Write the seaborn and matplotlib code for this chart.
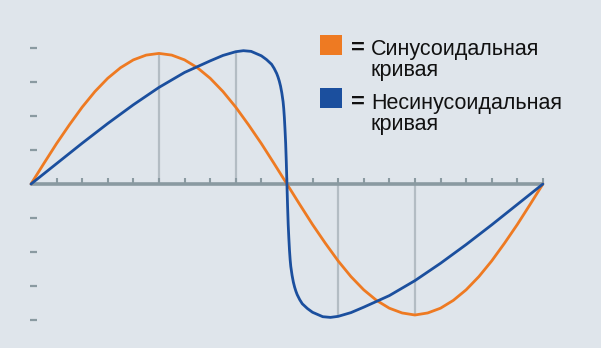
import matplotlib
matplotlib.use("Agg")
import matplotlib.pyplot as plt
import seaborn as sns
import pandas as pd
from matplotlib.patches import Rectangle

# ---- data ----
sine_x = [i * 0.5 for i in range(41)]
sine_y = [0, 0.60, 1.19, 1.74, 2.26, 2.72, 3.11, 3.42, 3.65, 3.79, 3.84,
          3.79, 3.65, 3.42, 3.11, 2.72, 2.26, 1.74, 1.19, 0.60, 0,
          -0.60, -1.19, -1.74, -2.26, -2.72, -3.11, -3.42, -3.65, -3.79, -3.85,
          -3.79, -3.65, -3.42, -3.11, -2.72, -2.26, -1.74, -1.19, -0.60, 0]

nonsine_x = [0, 1, 2, 3, 4, 5, 6, 7, 7.5, 8, 8.3, 8.6, 9, 9.2, 9.4, 9.5, 9.6,
             9.65, 9.7, 9.75, 9.8, 9.85, 9.875, 9.9, 9.925, 9.95, 9.975, 10,
             10.025, 10.05, 10.075, 10.1, 10.125, 10.15, 10.2, 10.25, 10.3,
             10.35, 10.4, 10.5, 10.6, 10.8, 11, 11.4, 11.7, 12, 12.5, 13, 14,
             15, 16, 17, 18, 19, 20]
nonsine_y = [0, 0.60, 1.20, 1.78, 2.33, 2.84, 3.28, 3.62, 3.78, 3.89, 3.92, 3.90,
             3.77, 3.66, 3.52, 3.40, 3.25, 3.15, 3.03, 2.88, 2.68, 2.42, 2.22,
             1.95, 1.60, 1.20, 0.65, 0,
             -0.65, -1.20, -1.60, -1.95, -2.22, -2.42, -2.68, -2.88, -3.03,
             -3.15, -3.25, -3.40, -3.52, -3.66, -3.77, -3.90, -3.92, -3.89,
             -3.78, -3.62, -3.28, -2.84, -2.33, -1.78, -1.20, -0.60, 0]

x_ticks = list(range(1, 21))
y_ticks = [-4, -3, -2, -1, 1, 2, 3, 4]
guide_x = [5, 8, 12, 15]
guide_y = [3.83, 3.89, -3.89, -3.85]

labels = ["Синусоидальная\nкривая", "Несинусоидальная\nкривая"]

# ---- styling ----
bg = "#dfe5eb"
orange = "#ee7a22"
blue = "#1b4f9e"
axis_col = "#8a9aa1"
guide_col = "#b3bcc3"
text_col = "#111111"

sns.set_theme(style="white")
plt.rcParams["font.family"] = ["Liberation Sans", "DejaVu Sans"]

fig = plt.figure(figsize=(6.01, 3.48), dpi=100, facecolor=bg)
ax = fig.add_axes([0, 0, 1, 1])
ax.set_facecolor(bg)
ax.set_xlim(-1.21, 22.27)
ax.set_ylim(-4.82, 5.41)
ax.axis("off")

# guide lines
ax.vlines(guide_x, 0, guide_y, color=guide_col, lw=1.6, zorder=1)

# axis line and ticks
ax.plot([0, 20], [0, 0], color=axis_col, lw=2.6, zorder=2, solid_capstyle="butt")
ax.vlines(x_ticks, 0, 0.17, color=axis_col, lw=1.5, zorder=2)
ax.hlines(y_ticks, -0.05, 0.22, color=axis_col, lw=1.6, zorder=2)

df = pd.concat([
    pd.DataFrame({"x": sine_x, "y": sine_y, "curve": labels[0]}),
    pd.DataFrame({"x": nonsine_x, "y": nonsine_y, "curve": labels[1]}),
])
sns.lineplot(data=df, x="x", y="y", hue="curve", palette=[orange, blue],
             sort=False, estimator=None, ax=ax, legend=False, lw=2.0, zorder=3)
for ln in ax.lines[-2:]:
    ln.set_solid_joinstyle("round")

# legend
W, H = 601, 348
def fx(px):
    return px / W
def fy(py):
    return 1 - py / H

for color, top, base1, base2, (l1, l2) in [
    (orange, 35, 55, 76, labels[0].split("\n")),
    (blue, 88, 109, 130, labels[1].split("\n")),
]:
    fig.add_artist(Rectangle((fx(320), fy(top + 19.5)), 21.5 / W, 19.5 / H,
                             transform=fig.transFigure, color=color, lw=0))
    fig.text(fx(351), fy(base1), "=", fontsize=17, color=text_col, va="baseline",
             fontweight="bold")
    fig.text(fx(371), fy(base1), l1, fontsize=15.5, color=text_col, va="baseline")
    fig.text(fx(371), fy(base2), l2, fontsize=15.5, color=text_col, va="baseline")

fig.savefig("out.png", dpi=100, facecolor=bg)
